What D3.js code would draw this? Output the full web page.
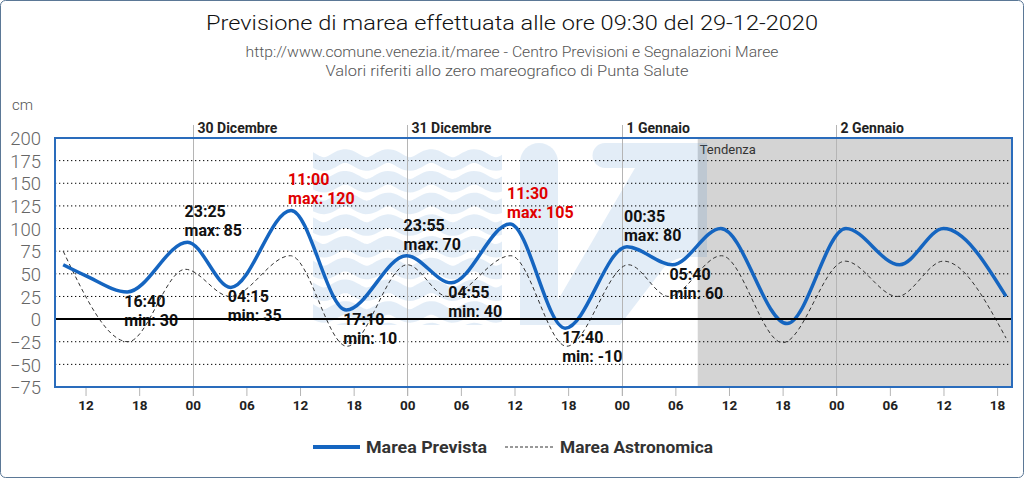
<!DOCTYPE html>
<html><head><meta charset="utf-8">
<script src="https://cdn.jsdelivr.net/npm/d3@7"></script>
<style>
body{margin:0;background:#fff;}
svg{display:block;}
text{font-family:Roboto,"Noto Sans",sans-serif;}
</style>
</head><body>
<svg id="chart" width="1024" height="480"></svg>
<script>
// ---------- DATA ----------
const titleText = "Previsione di marea effettuata alle ore 09:30 del 29-12-2020";
const subtitleLines = [
  "http://www.comune.venezia.it/maree - Centro Previsioni e Segnalazioni Maree",
  "Valori riferiti allo zero mareografico di Punta Salute"
];
const yUnit = "cm";
const yTicks = [200,175,150,125,100,75,50,25,0,-25,-50,-75];
const xDomain = ["2020-12-29 08:35","2021-01-02 19:40"];
const dayTimes = ["2020-12-30 00:00","2020-12-31 00:00","2021-01-01 00:00","2021-01-02 00:00"];
const dayLabels = ["30 Dicembre","31 Dicembre","1 Gennaio","2 Gennaio"];
const xTickTimes = [
  "2020-12-29 12:00","2020-12-29 18:00","2020-12-30 00:00","2020-12-30 06:00",
  "2020-12-30 12:00","2020-12-30 18:00","2020-12-31 00:00","2020-12-31 06:00",
  "2020-12-31 12:00","2020-12-31 18:00","2021-01-01 00:00","2021-01-01 06:00",
  "2021-01-01 12:00","2021-01-01 18:00","2021-01-02 00:00","2021-01-02 06:00",
  "2021-01-02 12:00","2021-01-02 18:00"];
const xTickLabels = ["12","18","00","06","12","18","00","06","12","18","00","06","12","18","00","06","12","18"];
const tendenzaStart = "2021-01-01 08:30";
const tendenzaLabel = "Tendenza";

const previstaTimes = [
  "2020-12-29 09:30","2020-12-29 12:00","2020-12-29 16:40","2020-12-29 23:25",
  "2020-12-30 04:15","2020-12-30 11:00","2020-12-30 17:10","2020-12-30 23:55",
  "2020-12-31 04:55","2020-12-31 11:30","2020-12-31 17:40","2021-01-01 00:35",
  "2021-01-01 05:40","2021-01-01 11:05","2021-01-01 18:30","2021-01-02 01:05",
  "2021-01-02 07:05","2021-01-02 12:00","2021-01-02 19:00"];
const previstaValues = [60,48,30,85,35,120,10,70,40,105,-10,80,60,100,-5,100,60,100,25];

const astronomicaTimes = [
  "2020-12-29 09:30","2020-12-29 16:45","2020-12-29 23:10","2020-12-30 04:10",
  "2020-12-30 10:55","2020-12-30 17:15","2020-12-31 00:00","2020-12-31 04:30",
  "2020-12-31 11:35","2020-12-31 17:50","2021-01-01 00:45","2021-01-01 05:15",
  "2021-01-01 11:10","2021-01-01 18:00","2021-01-02 01:00","2021-01-02 06:50",
  "2021-01-02 12:00","2021-01-02 19:00"];
const astronomicaValues = [75,-25,55,25,70,-30,60,25,70,-30,60,25,70,-26,64,25,64,-21];

const annotTimes = ["2020-12-29 16:40","2020-12-29 23:25","2020-12-30 04:15","2020-12-30 11:00",
  "2020-12-30 17:10","2020-12-30 23:55","2020-12-31 04:55","2020-12-31 11:30",
  "2020-12-31 17:40","2021-01-01 00:35","2021-01-01 05:40"];
const annotLabels = ["16:40","23:25","04:15","11:00","17:10","23:55","04:55","11:30","17:40","00:35","05:40"];
const annotValues = [30,85,35,120,10,70,40,105,-10,80,60];
const annotKinds = ["min","max","min","max","min","max","min","max","min","max","min"];
const annotAlert = [false,false,false,true,false,false,false,true,false,false,false];

const legendLabels = ["Marea Prevista","Marea Astronomica"];

// ---------- SETUP ----------
const parse = d3.timeParse("%Y-%m-%d %H:%M");
const svg = d3.select("#chart");
const W = 1024, H = 480;
const plot = {left:55, right:1012, top:138, bottom:387};

const x = d3.scaleTime().domain(xDomain.map(parse)).range([plot.left, plot.right]);
const y = d3.scaleLinear().domain([-75,200]).range([plot.bottom, plot.top]);

// outer frame
svg.append("rect").attr("x",0.5).attr("y",0.5).attr("width",W-1).attr("height",H-3)
  .attr("rx",5).attr("fill","#fff").attr("stroke","#5b7896").attr("stroke-width",1);

// titles
svg.append("text").attr("x",512).attr("y",30).attr("text-anchor","middle")
  .attr("font-size",21).attr("font-weight",300).attr("fill","#111")
  .attr("textLength",612).attr("lengthAdjust","spacingAndGlyphs").text(titleText);
svg.append("text").attr("x",512).attr("y",57).attr("text-anchor","middle")
  .attr("font-size",14).attr("font-weight",300).attr("fill","#555")
  .attr("textLength",533).attr("lengthAdjust","spacingAndGlyphs").text(subtitleLines[0]);
svg.append("text").attr("x",507).attr("y",76).attr("text-anchor","middle")
  .attr("font-size",14).attr("font-weight",300).attr("fill","#555")
  .attr("textLength",363).attr("lengthAdjust","spacingAndGlyphs").text(subtitleLines[1]);
svg.append("text").attr("x",12).attr("y",110).attr("font-size",15).attr("font-weight",300)
  .attr("fill","#555").text(yUnit);

// clip
svg.append("clipPath").attr("id","plotclip").append("rect")
  .attr("x",plot.left).attr("y",plot.top).attr("width",plot.right-plot.left).attr("height",plot.bottom-plot.top);

// tendenza background
const tx = x(parse(tendenzaStart));
svg.append("rect").attr("x",tx).attr("y",plot.top).attr("width",plot.right-tx)
  .attr("height",plot.bottom-plot.top).attr("fill","#d4d4d4");
svg.append("text").attr("x",tx+2).attr("y",154).attr("font-size",13).attr("fill","#333").text(tendenzaLabel);

// watermark (logo decoration)
const wm = svg.append("g").attr("clip-path","url(#plotclip)");
const wmFill = "rgba(60,125,200,0.14)";
wm.append("clipPath").attr("id","waveclip").append("rect").attr("x",313).attr("y",143).attr("width",189).attr("height",182);
const waves = wm.append("g").attr("clip-path","url(#waveclip)");
for (let k=0;k<9;k++){
  const y0 = 160 + k*21.7;
  const pts = d3.range(300, 520, 2).map(px => [px, y0 + 4*Math.sin((px-313)/43*2*Math.PI)]);
  waves.append("path").attr("d", d3.line()(pts)).attr("fill","none")
    .attr("stroke",wmFill).attr("stroke-width",13.5);
}
wm.append("path").attr("fill",wmFill)
  .attr("d","M520,325 L520,162 A19,19 0 0 1 558,162 L558,325 Z");
wm.append("path").attr("fill",wmFill)
  .attr("d","M605,143 L707,143 L707,257 L690,257 Q672,257 662,270 L620,325 L558,325 L558,300 L635,168 L605,168 A12.5,12.5 0 0 1 605,143 Z");

// horizontal grid
const grid = svg.append("g");
yTicks.filter(v => v!==0 && v!==200 && v!==-75).forEach(v=>{
  grid.append("line").attr("x1",plot.left).attr("x2",plot.right).attr("y1",y(v)).attr("y2",y(v))
    .attr("stroke","#000").attr("stroke-width",1).attr("stroke-dasharray","1.3,2.7");
});

// day lines and labels
dayTimes.forEach((t,i)=>{
  const dx = Math.round(x(parse(t)))+0.5;
  svg.append("line").attr("x1",dx).attr("x2",dx).attr("y1",125).attr("y2",396)
    .attr("stroke","#b5b5b5").attr("stroke-width",1);
  svg.append("text").attr("x",dx+4).attr("y",133).attr("font-size",14).attr("font-weight",700)
    .attr("fill","#222").text(dayLabels[i]);
});

// x axis
const xAxis = d3.axisBottom(x).tickValues(xTickTimes.map(parse))
  .tickFormat((d,i)=>xTickLabels[i]).tickSize(9);
const gx = svg.append("g").attr("transform",`translate(0,${plot.bottom})`).call(xAxis);
gx.select(".domain").remove();
gx.selectAll(".tick line").attr("stroke","#b5b5b5");
gx.selectAll(".tick text").attr("y",18).attr("dy","0.35em").attr("font-size",13.5)
  .attr("font-weight",700).attr("fill","#222").attr("font-family","Roboto,sans-serif");

// y axis
const yAxis = d3.axisLeft(y).tickValues(yTicks).tickSize(0).tickPadding(0);
const gy = svg.append("g").attr("transform",`translate(41,0)`).call(yAxis);
gy.select(".domain").remove();
gy.selectAll(".tick text").attr("font-size",18.5).attr("font-weight",300).attr("fill","#666")
  .attr("font-family","Roboto,sans-serif").attr("dy","0.36em");

// curves
const astro = astronomicaTimes.map((t,i)=>({t:parse(t), v:astronomicaValues[i]}));
const prev = previstaTimes.map((t,i)=>({t:parse(t), v:previstaValues[i]}));
const line = d3.line().x(d=>x(d.t)).y(d=>y(d.v)).curve(d3.curveMonotoneX);
svg.append("path").datum(astro).attr("d",line).attr("fill","none")
  .attr("stroke","#333").attr("stroke-width",1).attr("stroke-dasharray","4,3");
svg.append("path").datum(prev).attr("d",line).attr("fill","none")
  .attr("stroke","#1565c0").attr("stroke-width",3.5).attr("stroke-linejoin","round");

// annotations
const ann = svg.append("g").attr("font-size",16).attr("font-weight",700);
annotTimes.forEach((t,i)=>{
  const px = x(parse(t)) - 3, py = y(annotValues[i]);
  const col = annotAlert[i] ? "#e00000" : "#111";
  const b1 = annotKinds[i]==="max" ? py-25 : py+15;
  const b2 = annotKinds[i]==="max" ? py-6 : py+34;
  ann.append("text").attr("x",px).attr("y",b1).attr("fill",col).text(annotLabels[i]);
  ann.append("text").attr("x",px).attr("y",b2).attr("fill",col).text(`${annotKinds[i]}: ${annotValues[i]}`);
});

// zero line
svg.append("line").attr("x1",plot.left).attr("x2",plot.right).attr("y1",y(0)).attr("y2",y(0))
  .attr("stroke","#000").attr("stroke-width",2);

// plot border
svg.append("rect").attr("x",plot.left).attr("y",plot.top).attr("width",plot.right-plot.left)
  .attr("height",plot.bottom-plot.top).attr("fill","none").attr("stroke","#2a6cbc").attr("stroke-width",2);

// legend
const lg = svg.append("g");
lg.append("line").attr("x1",313).attr("x2",360).attr("y1",447).attr("y2",447)
  .attr("stroke","#1565c0").attr("stroke-width",4);
lg.append("text").attr("x",366).attr("y",453).attr("font-size",16.5).attr("font-weight",700)
  .attr("fill","#333").attr("textLength",121).attr("lengthAdjust","spacingAndGlyphs").text(legendLabels[0]);
lg.append("line").attr("x1",505).attr("x2",555).attr("y1",447).attr("y2",447)
  .attr("stroke","#333").attr("stroke-width",1).attr("stroke-dasharray","3,2");
lg.append("text").attr("x",560).attr("y",453).attr("font-size",16.5).attr("font-weight",700)
  .attr("fill","#333").attr("textLength",153).attr("lengthAdjust","spacingAndGlyphs").text(legendLabels[1]);
</script>
</body></html>
